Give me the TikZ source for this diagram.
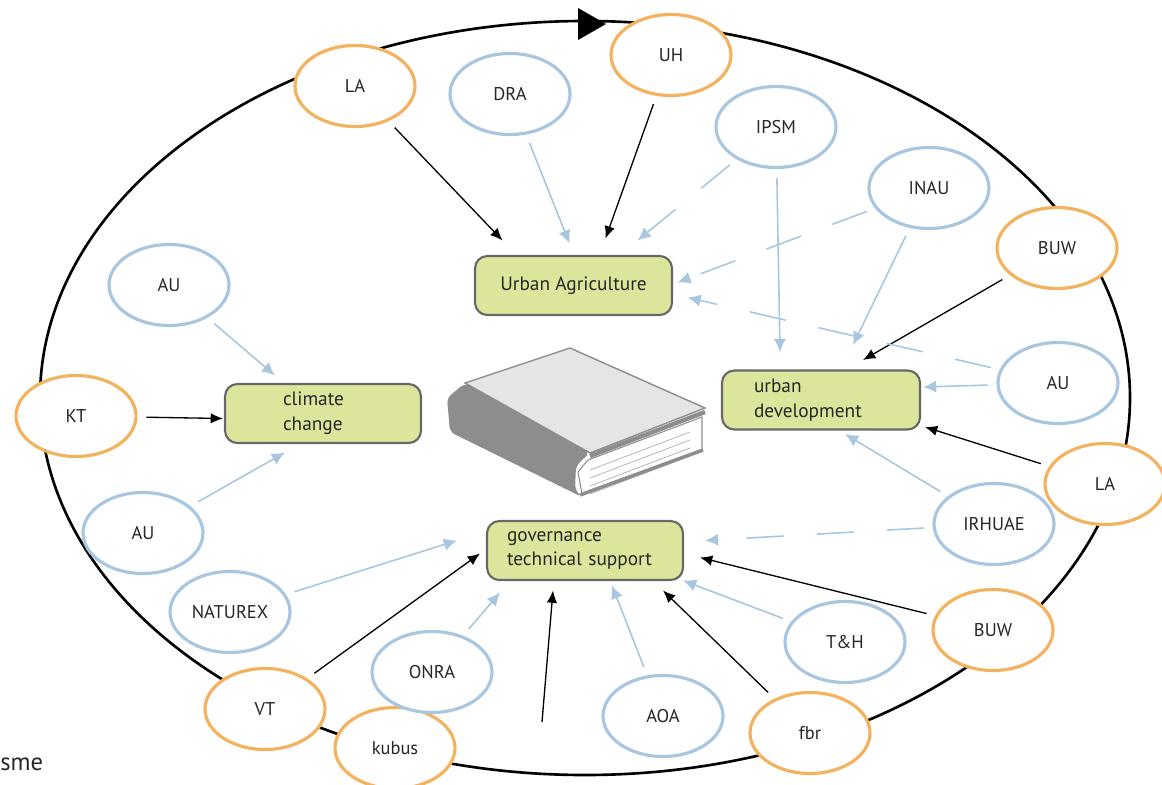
\documentclass[tikz,border=0pt]{standalone}
\usepackage{fontspec}
\setmainfont{PT Sans}
\usetikzlibrary{calc}
\usetikzlibrary{shapes.geometric}
\usetikzlibrary{arrows.meta}
\definecolor{partorange}{HTML}{F4B15E}
\definecolor{partblue}{HTML}{A8C6E0}
\definecolor{topicgreen}{HTML}{DCE59B}
\definecolor{topicedge}{HTML}{676767}
\definecolor{bookdark}{HTML}{8C8D8E}
\definecolor{booklight}{HTML}{E5E5E5}
\definecolor{labeltext}{HTML}{262626}
\tikzset{
  partner/.style={ellipse, fill=white, line width=1.8pt, minimum width=2.4cm,
    minimum height=1.62cm, inner sep=0pt, text=labeltext,
    font=\fontsize{10.5}{12}\selectfont},
  lead/.style={partner, draw=partorange},
  member/.style={partner, draw=partblue},
  topic/.style={draw=topicedge, fill=topicgreen, line width=1.2pt,
    rounded corners=7pt, minimum height=1.18cm, text=labeltext,
    font=\fontsize{11}{14}\selectfont, align=left},
  strong/.style={-{Latex[length=7pt,width=6pt]}, line width=0.75pt, shorten <=5pt},
  weak/.style={-{Latex[length=7.5pt,width=7pt]}, draw=partblue, line width=0.9pt,
    shorten <=5pt},
  loose/.style={weak, dash pattern=on 21pt off 19pt},
}

\begin{document}
\begin{tikzpicture}[x=0.02cm, y=-0.02cm]
    \useasboundingbox (0,0) rectangle (1162,784);
    \draw[line width=1.5pt] (585,398) ellipse [x radius=545, y radius=377]; % The cycle
    \fill (578,8) -- (606,24) -- (578,40) -- cycle; % Its direction

    % The book
    \fill[bookdark, rounded corners=3pt] (465,383) -- (590,453) -- (584,458) -- (576,466)
        -- (575,490) -- (582,497) -- (450,432) -- (447,398) -- cycle;
    \draw[bookdark, fill=white, line width=0.6pt] (588,460) -- (702,417) -- (702,450) -- (582,494) -- (578,472) -- cycle;
    \foreach \y in {0, 8, 16, 24}
        \draw[bookdark!70, line width=0.4pt] (590,{470+\y}) -- (690,{432+\y});
    \draw[bookdark, line width=2pt] (580,495) -- (703,450);
    \draw[bookdark, fill=booklight, line width=0.8pt] (465,383) -- (570,348) -- (705,408) -- (590,453) -- cycle;
    \draw[bookdark, line width=2.5pt] (590,456) -- (705,412);

    % Partners
    \node[lead] (LAtop) at (355,86) {LA};
    \node[member] (DRA) at (510,94) {DRA};
    \node[lead] (UH) at (671,55) {UH};
    \node[member] (IPSM) at (776,127) {IPSM};
    \node[member] (INAU) at (929,188) {INAU};
    \node[lead] (BUWtop) at (1057,248) {BUW};
    \node[member] (AUright) at (1058,383) {AU};
    \node[lead] (LAright) at (1105,484) {LA};
    \node[member] (IRHUAE) at (994,524) {IRHUAE};
    \node[lead] (BUWlow) at (993,630) {BUW};
    \node[member] (TH) at (845,642) {T\&H};
    \node[lead] (fbr) at (810,733) {fbr};
    \node[member] (AOA) at (663,716) {AOA};
    \node[lead] (kubus) at (395,748) {kubus};
    \node[member] (ONRA) at (432,672) {ONRA};
    \node[lead] (VT) at (265,709) {VT};
    \node[member] (NATUREX) at (230,612) {NATUREX};
    \node[member] (AUlow) at (143,533) {AU};
    \node[lead] (KT) at (76,416) {KT};
    \node[member] (AUup) at (169,285) {AU};
    \coordinate (gfoot) at (542,722);

    % Topics
    \node[topic, minimum width=3.94cm, align=center] (UA) at (573.5,285.5) {Urban Agriculture};
    \node[topic, text width=1.6cm, inner xsep=1.16cm] (CC) at (323,413.5) {climate\\change};
    \node[topic, text width=2.68cm, inner xsep=0.64cm] (UD) at (821,400) {urban\\development};
    \node[topic, text width=3.12cm, inner xsep=0.4cm] (GTS) at (585,550.5) {governance\\technical support};

    \node[font=\fontsize{14}{16}\selectfont, anchor=west, inner sep=0pt, text=labeltext] (sme) at (0,764) {sme};

    % Black links
    \draw[strong] (LAtop) -- ($(UA)+(-71,-45)$);
    \draw[strong] (UH) -- ($(UA)+(32,-47)$);
    \draw[strong] (BUWtop) -- ($(UD)+(42,-40)$);
    \draw[strong] (LAright) -- ($(UD)+(104,27)$);
    \draw[strong] (KT) -- ($(CC)+(-100,5)$);
    \draw[strong] (VT) -- ($(GTS)+(-105,3)$);
    \draw[strong, shorten <=0pt] (gfoot) -- ($(GTS)+(-32,40)$);
    \draw[strong] (fbr) -- ($(GTS)+(78,40)$);
    \draw[strong] (BUWlow) -- ($(GTS)+(115,7)$);

    % Blue links
    \draw[weak] (DRA) -- ($(UA)+(-4,-42)$);
    \draw[loose] (IPSM) -- ($(UA)+(64,-45)$);
    \draw[weak] (IPSM) -- ($(UD)+(-41,-48)$);
    \draw[loose] (INAU) -- ($(UA)+(104,-3)$);
    \draw[weak] (INAU) -- ($(UD)+(32,-55)$);
    \draw[loose] (AUright) -- ($(UA)+(114,12)$);
    \draw[weak] (AUright) -- ($(UD)+(102,-13)$);
    \draw[weak] (IRHUAE) -- ($(UD)+(24,34)$);
    \draw[loose] (IRHUAE) -- ($(GTS)+(120,-10)$);
    \draw[weak] (TH) -- ($(GTS)+(98,30)$);
    \draw[weak] (AOA) -- ($(GTS)+(27,35)$);
    \draw[weak] (ONRA) -- ($(GTS)+(-85,42)$);
    \draw[weak] (NATUREX) -- ($(GTS)+(-128,-10)$);
    \draw[weak] (AUup) -- ($(CC)+(-48,-38)$);
    \draw[weak] (AUlow) -- ($(CC)+(-38,39)$);
\end{tikzpicture}
\end{document}
